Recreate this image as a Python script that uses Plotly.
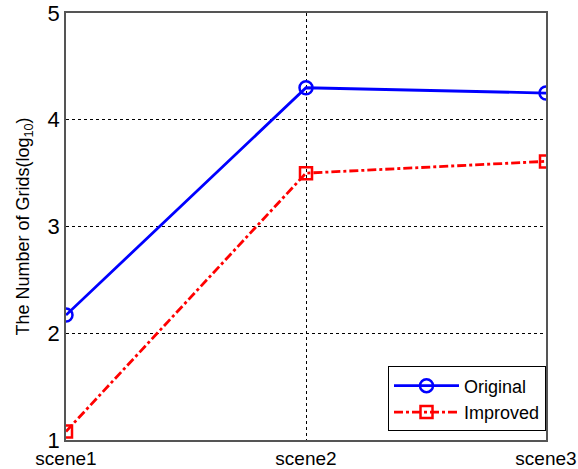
import plotly.graph_objects as go

categories = ["scene1", "scene2", "scene3"]
original = [2.17, 4.30, 4.25]
improved = [1.08, 3.50, 3.61]
y_ticks = [1, 2, 3, 4, 5]

xpos = list(range(len(categories)))

fig = go.Figure()
fig.add_trace(go.Scatter(
    x=xpos, y=original, name="Original", mode="lines+markers",
    line=dict(color="#0000FF", width=2.8),
    marker=dict(symbol="circle-open", size=13, color="#0000FF", line=dict(width=2.5)),
))
fig.add_trace(go.Scatter(
    x=xpos, y=improved, name="Improved", mode="lines+markers",
    line=dict(color="#FF0000", width=2.8, dash="dashdot"),
    marker=dict(symbol="square-open", size=12, color="#FF0000", line=dict(width=2.5)),
))

fig.update_layout(
    width=578, height=469,
    margin=dict(l=66, r=32, t=13, b=29, autoexpand=False),
    paper_bgcolor="white", plot_bgcolor="white",
    font=dict(family="Arial, Liberation Sans, sans-serif", color="black", size=18),
    showlegend=True,
    legend=dict(
        x=1.0, y=0.02, xanchor="right", yanchor="bottom",
        bgcolor="white", bordercolor="black", borderwidth=1,
        font=dict(size=18), itemwidth=65, tracegroupgap=0,
    ),
)
fig.update_xaxes(
    range=[0, 2], tickvals=xpos, ticktext=categories,
    showgrid=True, gridcolor="black", griddash="dot", gridwidth=1,
    showline=True, linecolor="#555555", linewidth=1.5, mirror=True,
    ticks="", tickfont=dict(size=19), zeroline=False, automargin=False,
)
fig.update_yaxes(
    range=[1, 5], tickvals=y_ticks,
    showgrid=True, gridcolor="black", griddash="dot", gridwidth=1,
    showline=True, linecolor="#555555", linewidth=1.5, mirror=True,
    ticks="", tickfont=dict(size=22), zeroline=False, automargin=False,
    title=dict(text="The Number of Grids(log<sub>10</sub>)", font=dict(size=18), standoff=13),
)

fig.write_html("out.html")
